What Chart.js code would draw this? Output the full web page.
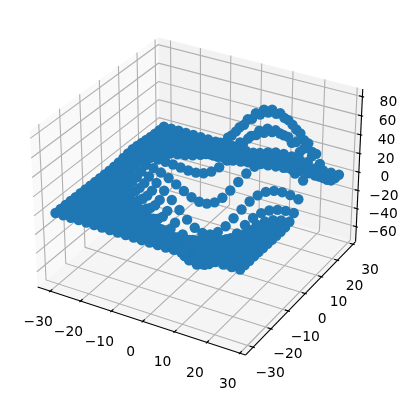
<!DOCTYPE html>
<html>
<head>
<meta charset="utf-8">
<script src="https://cdn.jsdelivr.net/npm/chart.js@4"></script>
<style>
  html, body { margin: 0; padding: 0; background: #fff; }
  canvas { display: block; }
</style>
</head>
<body>
<canvas id="chart" width="408" height="401"></canvas>
<script>
// grid of the surface, one row of heights per y value
const xValues = [-30, -27.5, -25, -22.5, -20, -17.5, -15, -12.5, -10, -7.5, -5, -2.5, 0, 2.5, 5, 7.5, 10, 12.5, 15, 17.5, 20, 22.5, 25, 27.5];
const yValues = [-30, -27.5, -25, -22.5, -20, -17.5, -15, -12.5, -10, -7.5, -5, -2.5, 0, 2.5, 5, 7.5, 10, 12.5, 15, 17.5, 20, 22.5, 25, 27.5];
const zRows = [
  [-.01,-.02,-.04,-.07,-.12,-.19,-.29,-.4,-.54,-.67,-.78,-.86,-.88,-.86,-.78,-.67,-.54,-.4,-.29,-.19,-.12,-.07,-.04,-.02],
  [-.02,-.04,-.08,-.14,-.25,-.39,-.59,-.83,-1.1,-1.37,-1.6,-1.76,-1.81,-1.76,-1.6,-1.37,-1.1,-.83,-.59,-.39,-.25,-.14,-.08,-.04],
  [-.04,-.08,-.15,-.28,-.47,-.76,-1.13,-1.6,-2.12,-2.64,-3.08,-3.39,-3.49,-3.39,-3.08,-2.64,-2.12,-1.6,-1.13,-.76,-.47,-.28,-.15,-.08],
  [-.07,-.14,-.28,-.5,-.86,-1.37,-2.06,-2.9,-3.84,-4.78,-5.59,-6.14,-6.33,-6.14,-5.59,-4.78,-3.84,-2.9,-2.06,-1.37,-.86,-.5,-.28,-.14],
  [-.12,-.24,-.47,-.86,-1.46,-2.33,-3.5,-4.93,-6.53,-8.13,-9.5,-10.44,-10.77,-10.44,-9.5,-8.13,-6.53,-4.93,-3.5,-2.33,-1.46,-.86,-.47,-.24],
  [-.19,-.39,-.75,-1.37,-2.33,-3.72,-5.59,-7.88,-10.44,-12.99,-15.19,-16.68,-17.21,-16.68,-15.19,-12.99,-10.44,-7.88,-5.59,-3.72,-2.33,-1.37,-.75,-.39],
  [-.29,-.59,-1.13,-2.06,-3.5,-5.59,-8.39,-11.83,-15.67,-19.5,-22.8,-25.04,-25.84,-25.04,-22.8,-19.5,-15.67,-11.83,-8.39,-5.59,-3.5,-2.06,-1.13,-.59],
  [-.4,-.83,-1.6,-2.9,-4.93,-7.88,-11.83,-16.68,-22.1,-27.5,-32.15,-35.31,-36.43,-35.31,-32.15,-27.5,-22.1,-16.68,-11.83,-7.88,-4.93,-2.9,-1.6,-.83],
  [-.53,-1.1,-2.11,-3.84,-6.53,-10.44,-15.67,-22.09,-29.26,-36.42,-42.58,-46.76,-48.23,-46.75,-42.56,-36.4,-29.24,-22.06,-15.64,-10.41,-6.5,-3.82,-2.1,-1.08],
  [-.66,-1.36,-2.62,-4.76,-8.1,-12.95,-19.45,-27.42,-36.34,-45.22,-52.87,-58.05,-59.88,-58.01,-52.79,-45.11,-36.2,-27.27,-19.28,-12.79,-7.94,-4.62,-2.49,-1.25],
  [-.75,-1.55,-3,-5.48,-9.34,-14.97,-22.51,-31.77,-42.12,-52.41,-61.27,-67.24,-69.29,-67.03,-60.87,-51.85,-41.42,-30.99,-21.69,-14.15,-8.56,-4.76,-2.37,-1],
  [-.72,-1.55,-3.07,-5.68,-9.81,-15.81,-23.88,-33.8,-44.87,-55.86,-65.24,-71.46,-73.4,-70.64,-63.66,-53.63,-42.12,-30.72,-20.63,-12.57,-6.71,-2.84,-.55,.61],
  [-.47,-1.18,-2.55,-4.96,-8.83,-14.54,-22.26,-31.77,-42.37,-52.8,-61.52,-66.99,-68.09,-64.46,-56.65,-45.91,-33.91,-22.27,-12.26,-4.54,.72,3.81,5.22,5.46],
  [.13,-.24,-1.12,-2.84,-5.78,-10.26,-16.45,-24.12,-32.62,-40.78,-47.18,-50.41,-49.55,-44.35,-35.48,-24.24,-12.33,-1.33,7.55,13.72,17.14,18.21,17.51,15.69],
  [1.06,1.23,1.15,.56,-.79,-3.2,-6.75,-11.26,-16.14,-20.43,-22.95,-22.6,-18.71,-11.28,-1.11,10.45,21.75,31.31,38.07,41.6,42.02,39.88,35.95,30.98],
  [2.01,2.74,3.52,4.17,4.54,4.46,3.85,2.9,2.07,2.07,3.78,7.94,14.9,24.41,35.57,47.01,57.2,64.85,69.08,69.64,66.84,61.38,54.16,46.04],
  [2.5,3.56,4.85,6.3,7.83,9.33,10.79,12.36,14.34,17.29,21.76,28.19,36.68,46.85,57.78,68.21,76.82,82.55,84.7,83.19,78.42,71.13,62.23,52.62],
  [2.27,3.28,4.55,6.05,7.74,9.57,11.52,13.72,16.4,19.91,24.64,30.85,38.54,47.32,56.43,64.85,71.53,75.67,76.75,74.75,70.04,63.26,55.19,46.58],
  [1.55,2.24,3.1,4.09,5.21,6.4,7.66,9.06,10.79,13.08,16.23,20.43,25.68,31.75,38.07,43.96,48.68,51.63,52.48,51.2,48.02,43.41,37.9,31.99],
  [.79,1.12,1.51,1.92,2.33,2.7,3,3.31,3.72,4.45,5.7,7.66,10.37,13.72,17.4,20.99,24.01,26.1,27,26.68,25.25,22.97,20.14,17.05],
  [.29,.39,.47,.51,.48,.34,.08,-.27,-.63,-.86,-.79,-.3,.72,2.23,4.08,6.03,7.83,9.23,10.08,10.34,10.03,9.28,8.24,7.03],
  [.06,.06,.03,-.05,-.23,-.5,-.9,-1.39,-1.93,-2.42,-2.76,-2.85,-2.6,-2.03,-1.18,-.19,.82,1.69,2.35,2.74,2.87,2.79,2.55,2.22],
  [-.01,-.03,-.07,-.17,-.31,-.54,-.84,-1.22,-1.64,-2.04,-2.37,-2.56,-2.55,-2.35,-1.97,-1.48,-.94,-.44,-.02,.28,.47,.55,.56,.52],
  [-.01,-.03,-.06,-.12,-.22,-.35,-.53,-.75,-1,-1.25,-1.46,-1.6,-1.62,-1.55,-1.38,-1.14,-.87,-.6,-.37,-.18,-.06,.02,.06,.08]
];

const xTicks = [-30, -20, -10, 0, 10, 20, 30];
const yTicks = [-30, -20, -10, 0, 10, 20, 30];
const zTicks = [-60, -40, -20, 0, 20, 40, 60, 80];

const xLim = [-32.875, 30.375];
const yLim = [-32.875, 30.375];
const zLim = [-73.4, 84.7];

// 3d view
const elev = 30 * Math.PI / 180;
const azim = -60 * Math.PI / 180;
const dist = 10;
const boxNorm = Math.sqrt(41);
const box = [4, 4, 3].map(v => v / boxNorm * 1.8294640721620434 * 1.027);

// pixel window of the picture, in projected units
const unitsPerPx = 0.185 / 369.6;
const originX = 199.5;
const originY = 188;

const n = [Math.cos(elev) * Math.cos(azim), Math.cos(elev) * Math.sin(azim), Math.sin(elev)];
const uLen = Math.hypot(n[0], n[1]);
const u = [-n[1] / uLen, n[0] / uLen, 0];
const v = [n[1] * u[2] - n[2] * u[1], n[2] * u[0] - n[0] * u[2], n[0] * u[1] - n[1] * u[0]];

function project(x, y, z) {
    const p = [
        ((x - xLim[0]) / (xLim[1] - xLim[0]) - 0.5) * box[0],
        ((y - yLim[0]) / (yLim[1] - yLim[0]) - 0.5) * box[1],
        ((z - zLim[0]) / (zLim[1] - zLim[0]) - 0.5) * box[2]
    ];
    const depth = dist - (p[0] * n[0] + p[1] * n[1] + p[2] * n[2]);
    return {
        x: (p[0] * u[0] + p[1] * u[1] + p[2] * u[2]) / depth,
        y: (p[0] * v[0] + p[1] * v[1] + p[2] * v[2]) / depth
    };
}

// edges of the drawn box sit a little outside the limits
const xPad = (xLim[1] - xLim[0]) / 48;
const yPad = (yLim[1] - yLim[0]) / 48;
const zPad = (zLim[1] - zLim[0]) / 48;
const x0 = xLim[0] - xPad, x1 = xLim[1] + xPad;
const y0 = yLim[0] - yPad, y1 = yLim[1] + yPad;
const z0 = zLim[0] - zPad, z1 = zLim[1] + zPad;

function lineSet(points, color, width, order) {
    return {
        data: points.map(p => project(p[0], p[1], p[2])),
        showLine: true,
        borderColor: color,
        borderWidth: width,
        pointRadius: 0,
        fill: false,
        order: order
    };
}

function paneSet(points, color) {
    const ds = lineSet(points.concat([points[0]]), color, 0, 30);
    ds.fill = 'shape';
    ds.backgroundColor = color;
    ds.borderColor = 'rgba(0,0,0,0)';
    return ds;
}

const datasets = [];

// panes
datasets.push(paneSet([[x0, y0, z0], [x0, y1, z0], [x0, y1, z1], [x0, y0, z1]], '#f9f9f9'));
datasets.push(paneSet([[x0, y1, z0], [x1, y1, z0], [x1, y1, z1], [x0, y1, z1]], '#f2f2f2'));
datasets.push(paneSet([[x0, y0, z0], [x1, y0, z0], [x1, y1, z0], [x0, y1, z0]], '#f5f5f5'));

// grid
const gridColor = '#b0b0b0';
xTicks.forEach(t => datasets.push(lineSet([[t, y0, z0], [t, y1, z0], [t, y1, z1]], gridColor, 1.11, 20)));
yTicks.forEach(t => datasets.push(lineSet([[x1, t, z0], [x0, t, z0], [x0, t, z1]], gridColor, 1.11, 20)));
zTicks.forEach(t => datasets.push(lineSet([[x0, y0, t], [x0, y1, t], [x1, y1, t]], gridColor, 1.11, 20)));

// axis lines and tick marks
datasets.push(lineSet([[x0, y0, z0], [x1, y0, z0]], '#000', 1.11, 10));
datasets.push(lineSet([[x1, y0, z0], [x1, y1, z0]], '#000', 1.11, 10));
datasets.push(lineSet([[x1, y1, z0], [x1, y1, z1]], '#000', 1.11, 10));
const yStep = (yLim[1] - yLim[0]) / 12;
const xStep = (xLim[1] - xLim[0]) / 12;
xTicks.forEach(t => datasets.push(lineSet([[t, y0 - 0.1 * yStep, z0], [t, y0 + 0.2 * yStep, z0]], '#000', 1.11, 10)));
yTicks.forEach(t => datasets.push(lineSet([[x1 + 0.1 * xStep, t, z0], [x1 - 0.2 * xStep, t, z0]], '#000', 1.11, 10)));
zTicks.forEach(t => datasets.push(lineSet([[x1 + 0.1 * xStep, y1, t], [x1 - 0.2 * xStep, y1, t]], '#000', 1.11, 10)));

// the points
const points = [];
zRows.forEach((row, j) => {
    row.forEach((z, i) => {
        points.push(project(xValues[i], yValues[j], z));
    });
});
datasets.push({
    data: points,
    showLine: false,
    pointRadius: 5.2,
    pointBorderWidth: 0,
    pointBackgroundColor: '#1f77b4',
    order: 1
});

function tickText(t) {
    return t < 0 ? '\u2212' + Math.abs(t) : String(t);
}

const tickLabels = {
    id: 'tickLabels',
    afterDraw(chart) {
        const ctx = chart.ctx;
        const sx = chart.scales.x;
        const sy = chart.scales.y;
        ctx.save();
        ctx.fillStyle = '#000';
        ctx.font = '13.89px "DejaVu Sans"';
        ctx.textAlign = 'center';
        ctx.textBaseline = 'middle';
        const put = (pos, dx, dy, t) => {
            ctx.fillText(tickText(t), sx.getPixelForValue(pos.x) + dx, sy.getPixelForValue(pos.y) + dy, 60);
        };
        xTicks.forEach(t => put(project(t, y0, z0), -12, 31, t));
        yTicks.forEach(t => put(project(x1, t, z0), 17, 26, t));
        zTicks.forEach(t => put(project(x1, y1, t), 26, 5.5, t));
        ctx.restore();
    }
};

new Chart(document.getElementById('chart').getContext('2d'), {
    type: 'scatter',
    data: { datasets: datasets },
    plugins: [tickLabels],
    options: {
        responsive: false,
        animation: false,
        layout: { padding: 0 },
        plugins: { legend: { display: false }, tooltip: { enabled: false } },
        scales: {
            x: { display: false, min: -originX * unitsPerPx, max: (408 - originX) * unitsPerPx },
            y: { display: false, min: -(401 - originY) * unitsPerPx, max: originY * unitsPerPx }
        }
    }
});
</script>
</body>
</html>
